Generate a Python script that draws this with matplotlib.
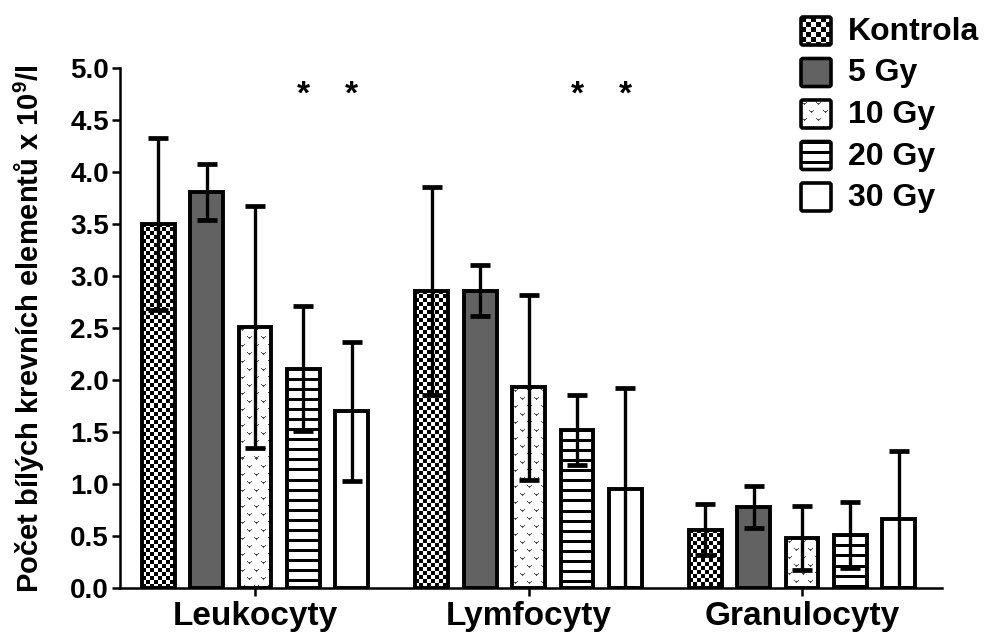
import numpy as np
import matplotlib
matplotlib.use('Agg')
import matplotlib.pyplot as plt
from matplotlib.patches import FancyBboxPatch

plt.rcParams['font.family'] = ['Liberation Sans', 'DejaVu Sans']
plt.rcParams['font.weight'] = 'bold'
plt.rcParams['mathtext.fontset'] = 'custom'
plt.rcParams['mathtext.rm'] = 'Liberation Sans:bold'
plt.rcParams['mathtext.default'] = 'rm'

groups = ['Leukocyty', 'Lymfocyty', 'Granulocyty']
doses = ['Kontrola', '5 Gy', '10 Gy', '20 Gy', '30 Gy']

# mean counts per dose (Leukocyty, Lymfocyty, Granulocyty)
kontrola = [3.50, 2.86, 0.56]
gy5 = [3.81, 2.86, 0.78]
gy10 = [2.51, 1.93, 0.48]
gy20 = [2.11, 1.52, 0.51]
gy30 = [1.70, 0.95, 0.66]

# standard deviations
kontrola_sd = [0.83, 1.00, 0.245]
gy5_sd = [0.27, 0.245, 0.20]
gy10_sd = [1.16, 0.89, 0.31]
gy20_sd = [0.60, 0.335, 0.32]
gy30_sd = [0.67, 0.97, 0.66]

# significant differences: (group index, dose index)
signif = [(0, 3), (0, 4), (1, 3), (1, 4)]

means = [kontrola, gy5, gy10, gy20, gy30]
sds = [kontrola_sd, gy5_sd, gy10_sd, gy20_sd, gy30_sd]


def checker_tile(cell):
    t = np.ones((2 * cell, 2 * cell, 3))
    t[:cell, :cell] = 0.0
    t[cell:, cell:] = 0.0
    return t


def make_tiles():
    stripes = np.ones((10, 10, 3))
    stripes[0:3] = 0.0
    vees = np.ones((16, 14, 3))
    for (r0, c0) in [(2, 1), (10, 8)]:
        for (dr, dc) in [(0, 0), (0, 4), (1, 1), (1, 3), (2, 2), (1, 2)]:
            vees[r0 + dr, c0 + dc] = 0.3
    return stripes, vees


stripes, vees = make_tiles()
tiles = [checker_tile(4), None, vees, stripes, None]
legend_tiles = [checker_tile(5), None, vees, stripes, None]
faces = ['none', '#626262', 'none', 'none', 'white']


def texture(tile, w_px, h_px):
    w_px, h_px = max(int(round(w_px)), 1), max(int(round(h_px)), 1)
    ry = h_px // tile.shape[0] + 1
    rx = w_px // tile.shape[1] + 1
    return np.tile(tile, (ry, rx, 1))[:h_px, :w_px]


W, H = 985, 632
fig = plt.figure(figsize=(W / 100, H / 100), dpi=100)
ax = fig.add_axes([120 / W, 1 - 588 / H, 822 / W, 520 / H])

xlim = (-0.494, 2.512)
ylim = (0, 5)
px_x = 822 / (xlim[1] - xlim[0])
px_y = 520 / (ylim[1] - ylim[0])

bar_w = 0.12
step = 0.177
x = np.arange(len(groups))

for i, dose in enumerate(doses):
    pos = x + (i - 2) * step
    m = np.array(means[i])
    s = np.array(sds[i])
    if tiles[i] is not None:
        for p, v in zip(pos, m):
            tex = texture(tiles[i], bar_w * px_x, v * px_y)
            ax.imshow(tex, extent=(p - bar_w / 2, p + bar_w / 2, 0, v),
                      aspect='auto', interpolation='nearest', zorder=2)
    ax.bar(pos, m, bar_w, facecolor=faces[i], edgecolor='black',
           linewidth=2.8, zorder=3)
    lower = np.minimum(s, m)
    ax.errorbar(pos, m, yerr=[lower, s], fmt='none', ecolor='black',
                elinewidth=2.4, capsize=7, capthick=3.4, zorder=5)

for g, d in signif:
    ax.text(g + (d - 2) * step, 4.66, '*', ha='center', va='baseline',
            fontsize=24)

ax.set_xlim(*xlim)
ax.set_ylim(*ylim)
ticks = np.arange(0, 5.01, 0.5)
ax.set_yticks(ticks)
ax.set_yticklabels(['%.1f' % t for t in ticks])
ax.set_xticks(x)
ax.set_xticklabels(groups, fontsize=24)
ax.tick_params(axis='y', labelsize=20, width=1.8, length=6, pad=2)
ax.tick_params(axis='x', width=1.8, length=6, pad=3)
ax.spines['top'].set_visible(False)
ax.spines['right'].set_visible(False)
ax.spines['left'].set_linewidth(1.8)
ax.spines['bottom'].set_linewidth(1.8)

fig.text(29 / W, 1 - 329 / H, 'Počet bílých krevních elementů x 10$^{9}$/l',
         rotation=90, ha='center', va='center', fontsize=21)

# legend drawn in figure pixel coordinates
ov = fig.add_axes([0, 0, 1, 1])
ov.patch.set_alpha(0)
for k, dose in enumerate(doses):
    c = 31 + k * 41.5
    x0, x1, y0, y1 = 801, 831, c - 14, c + 14
    if legend_tiles[k] is not None:
        ov.imshow(texture(legend_tiles[k], x1 - x0, y1 - y0),
                  extent=(x0, x1, y1, y0),
                  aspect='auto', interpolation='nearest', zorder=2)
    ov.add_patch(FancyBboxPatch((x0, y0), x1 - x0, y1 - y0,
                                boxstyle='round,pad=0,rounding_size=2',
                                facecolor=faces[k], edgecolor='black',
                                linewidth=2.6, zorder=3))
    ov.text(848, c + 1, dose, ha='left', va='center', fontsize=23)
ov.set_xlim(0, W)
ov.set_ylim(H, 0)
ov.axis('off')

fig.savefig('out.png', dpi=100)
